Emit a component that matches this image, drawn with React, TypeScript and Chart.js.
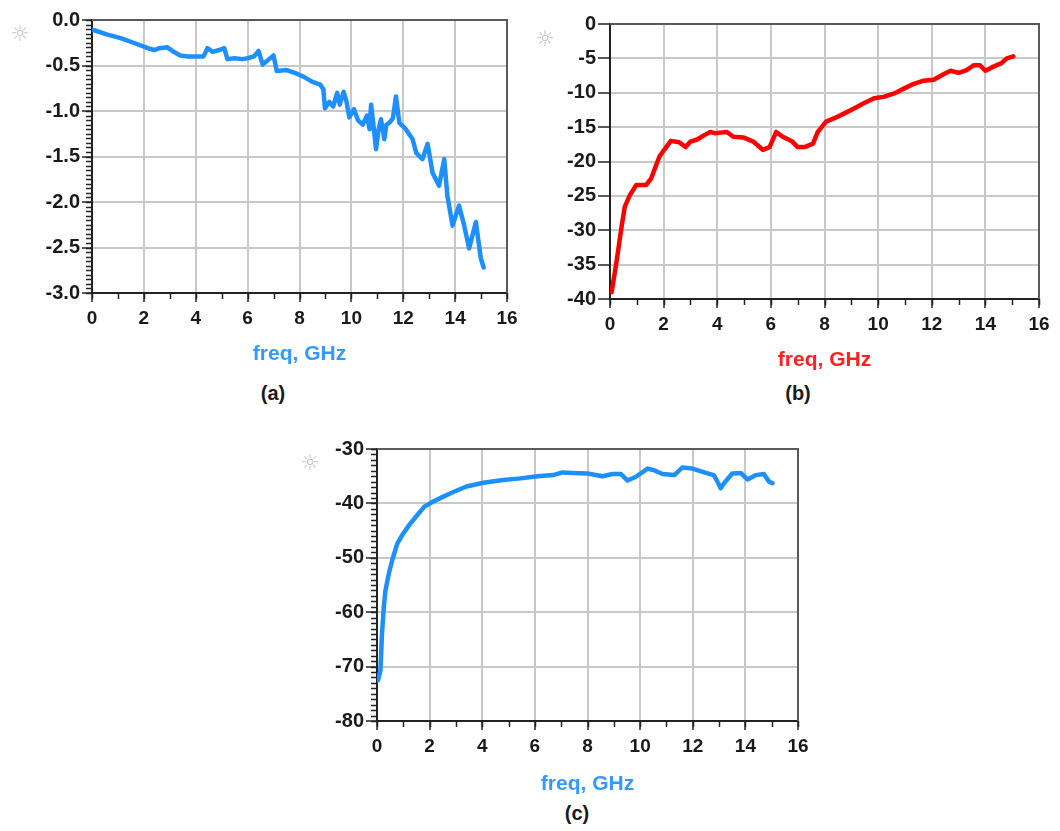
import React, { useEffect, useRef } from "react";
import { Chart, registerables } from "chart.js";

Chart.register(...registerables);

// ---------- data ----------
const freqA = [0.05, 0.6, 1.1, 1.6, 2.15, 2.4, 2.6, 2.9, 3.1, 3.4, 3.7, 4.0, 4.3, 4.45, 4.65, 4.9, 5.1, 5.22, 5.5, 5.8, 6.0, 6.25, 6.42, 6.58, 6.83, 7.0, 7.12, 7.5, 7.9, 8.2, 8.5, 8.8, 8.92, 8.98, 9.15, 9.3, 9.45, 9.55, 9.7, 9.8, 9.92, 10.1, 10.25, 10.44, 10.6, 10.7, 10.76, 10.85, 10.95, 11.05, 11.14, 11.27, 11.35, 11.46, 11.6, 11.72, 11.85, 12.1, 12.36, 12.5, 12.74, 12.94, 13.13, 13.38, 13.58, 13.7, 13.9, 14.15, 14.35, 14.54, 14.8, 14.99, 15.1];
const valsA = [-0.11, -0.16, -0.2, -0.25, -0.31, -0.33, -0.31, -0.3, -0.34, -0.39, -0.4, -0.4, -0.4, -0.31, -0.35, -0.33, -0.31, -0.43, -0.42, -0.43, -0.42, -0.4, -0.34, -0.49, -0.43, -0.39, -0.56, -0.55, -0.59, -0.63, -0.68, -0.71, -0.76, -0.97, -0.9, -0.95, -0.8, -0.93, -0.79, -0.88, -1.07, -0.98, -1.1, -1.15, -1.05, -1.2, -0.93, -1.15, -1.42, -1.2, -1.09, -1.31, -1.15, -1.13, -1.08, -0.84, -1.13, -1.2, -1.31, -1.46, -1.53, -1.36, -1.68, -1.82, -1.53, -1.93, -2.26, -2.04, -2.26, -2.51, -2.22, -2.62, -2.72];

const freqB = [0.06, 0.25, 0.43, 0.55, 0.74, 0.98, 1.35, 1.53, 1.84, 2.02, 2.27, 2.58, 2.82, 3.0, 3.25, 3.5, 3.74, 3.93, 4.1, 4.36, 4.6, 4.97, 5.34, 5.7, 5.95, 6.2, 6.44, 6.8, 7.0, 7.26, 7.57, 7.75, 8.06, 8.37, 8.74, 9.1, 9.48, 9.85, 10.2, 10.6, 10.96, 11.33, 11.7, 12.07, 12.44, 12.7, 13.0, 13.3, 13.56, 13.8, 14.0, 14.3, 14.6, 14.8, 15.04];
const valsB = [-39.0, -34.4, -29.5, -26.6, -24.9, -23.4, -23.4, -22.5, -19.3, -18.3, -17.0, -17.2, -17.9, -17.1, -16.8, -16.2, -15.7, -15.9, -15.8, -15.7, -16.4, -16.5, -17.1, -18.3, -17.9, -15.7, -16.4, -17.1, -17.9, -17.9, -17.4, -15.7, -14.2, -13.7, -13.0, -12.3, -11.5, -10.8, -10.6, -10.1, -9.4, -8.7, -8.25, -8.1, -7.3, -6.8, -7.1, -6.7, -6.0, -6.0, -6.8, -6.2, -5.7, -5.0, -4.7];

const freqC = [0.04, 0.13, 0.19, 0.26, 0.32, 0.45, 0.58, 0.77, 0.96, 1.22, 1.47, 1.8, 2.12, 2.5, 2.9, 3.4, 4.04, 4.8, 5.45, 6.1, 6.7, 7.05, 7.43, 8.0, 8.57, 8.95, 9.27, 9.52, 9.84, 10.28, 10.53, 10.85, 11.3, 11.6, 11.99, 12.5, 12.8, 12.97, 13.06, 13.19, 13.5, 13.82, 14.08, 14.4, 14.7, 14.9, 15.03];
const valsC = [-72.5, -70.7, -63.9, -59, -56, -52.9, -50.4, -47.4, -45.8, -44, -42.5, -40.6, -39.7, -38.8, -37.9, -36.9, -36.2, -35.7, -35.4, -35.0, -34.8, -34.3, -34.4, -34.5, -35.0, -34.6, -34.6, -35.8, -35.1, -33.6, -33.9, -34.6, -34.8, -33.4, -33.6, -34.4, -34.8, -36.3, -37.2, -36.3, -34.5, -34.4, -35.6, -34.8, -34.6, -36.0, -36.3];

const xAxisLabel = "freq, GHz";
const captions = ["(a)", "(b)", "(c)"];

const FONT = "'Liberation Sans', Arial, sans-serif";

const minorTicksPlugin = {
  id: "minorTicks",
  afterDraw(chart: any, _args: any, opts: any) {
    const { ctx, chartArea } = chart;
    const xs = chart.scales.x;
    const ys = chart.scales.y;
    ctx.save();
    ctx.strokeStyle = "#222";
    ctx.lineWidth = 1.5;
    if (opts.xStep) {
      const n = Math.round((xs.max - xs.min) / opts.xStep);
      for (let i = 0; i <= n; i++) {
        const px = Math.round(xs.getPixelForValue(xs.min + i * opts.xStep)) + 0.5;
        ctx.beginPath();
        ctx.moveTo(px, chartArea.bottom);
        ctx.lineTo(px, chartArea.bottom + opts.len);
        ctx.stroke();
      }
    }
    if (opts.yStep) {
      const n = Math.round((ys.max - ys.min) / opts.yStep);
      for (let i = 0; i <= n; i++) {
        const py = Math.round(ys.getPixelForValue(ys.min + i * opts.yStep)) + 0.5;
        ctx.beginPath();
        ctx.moveTo(chartArea.left - opts.len, py);
        ctx.lineTo(chartArea.left, py);
        ctx.stroke();
      }
    }
    // frame top / right
    ctx.strokeStyle = "#5a5a5a";
    ctx.lineWidth = 2;
    ctx.beginPath();
    ctx.moveTo(chartArea.left, chartArea.top);
    ctx.lineTo(chartArea.right, chartArea.top);
    ctx.lineTo(chartArea.right, chartArea.bottom);
    ctx.stroke();
    ctx.restore();
  },
};

type PanelProps = {
  left: number;
  top: number;
  width: number;
  height: number;
  plot: { l: number; t: number; r: number; b: number };
  freq: number[];
  vals: number[];
  color: string;
  labelColor: string;
  yMin: number;
  yMax: number;
  yStep: number;
  yMinor: number;
  decimals: number;
  yTickLen: number;
  titlePad: number;
};

function Panel(p: PanelProps) {
  const ref = useRef<HTMLCanvasElement | null>(null);
  useEffect(() => {
    if (!ref.current) return;
    const data = p.freq.map((f, i) => ({ x: f, y: p.vals[i] }));
    const chart = new Chart(ref.current, {
      type: "line",
      data: {
        datasets: [
          {
            data,
            borderColor: p.color,
            borderWidth: 4.5,
            borderJoinStyle: "round",
            borderCapStyle: "round",
            pointRadius: 0,
            tension: 0,
            fill: false,
          },
        ],
      },
      options: {
        animation: false,
        responsive: false,
        devicePixelRatio: 1,
        layout: { padding: { left: 0, top: p.plot.t, right: p.width - p.plot.r, bottom: 0 } },
        plugins: {
          legend: { display: false },
          tooltip: { enabled: false },
          minorTicks: { xStep: 1, yStep: p.yMinor, len: 6 },
        } as any,
        scales: {
          x: {
            type: "linear",
            min: 0,
            max: 16,
            ticks: {
              stepSize: 2,
              color: "#1a1a1a",
              font: { family: FONT, size: 19, weight: "bold" },
              padding: 5,
              maxRotation: 0,
            },
            grid: { color: "#c8c8c8", lineWidth: 2, tickColor: "#222", tickLength: 9, tickWidth: 1.5 },
            border: { color: "#222", width: 2 },
            title: {
              display: true,
              text: xAxisLabel,
              color: p.labelColor,
              font: { family: FONT, size: 21, weight: "bold" },
              padding: { top: 0, bottom: p.titlePad },
            },
            afterFit: (s: any) => {
              s.height = p.height - p.plot.b;
            },
          },
          y: {
            type: "linear",
            min: p.yMin,
            max: p.yMax,
            ticks: {
              stepSize: p.yStep,
              color: "#1a1a1a",
              font: { family: FONT, size: 20, weight: "bold" },
              padding: 2,
              callback: (v: any) => Number(v).toFixed(p.decimals),
            },
            grid: { color: "#c8c8c8", lineWidth: 2, tickColor: "#222", tickLength: p.yTickLen, tickWidth: 1.5 },
            border: { color: "#222", width: 2 },
            afterFit: (s: any) => {
              s.width = p.plot.l;
            },
          },
        },
      } as any,
      plugins: [minorTicksPlugin],
    });
    return () => chart.destroy();
  }, []);
  return (
    <canvas
      ref={ref}
      width={p.width}
      height={p.height}
      style={{ position: "absolute", left: p.left, top: p.top, width: p.width, height: p.height }}
    />
  );
}

const captionStyle = (cx: number, cy: number): React.CSSProperties => ({
  position: "absolute",
  left: cx - 40,
  top: cy - 13,
  width: 80,
  height: 26,
  lineHeight: "26px",
  textAlign: "center",
  fontFamily: FONT,
  fontWeight: "bold",
  fontSize: 20,
  color: "#1a1a1a",
});

const sunStyle = (cx: number, cy: number): React.CSSProperties => ({
  position: "absolute",
  left: cx - 14,
  top: cy - 14,
  width: 28,
  height: 28,
  lineHeight: "28px",
  textAlign: "center",
  fontFamily: "'DejaVu Sans', sans-serif",
  fontSize: 22,
  color: "#c4c4c4",
});

export default function App() {
  return (
    <div style={{ position: "absolute", left: 0, top: 0, width: 1060, height: 831, background: "#fff", overflow: "hidden" }}>
      <Panel
        left={0}
        top={0}
        width={530}
        height={372}
        plot={{ l: 92, t: 20, r: 507, b: 293 }}
        freq={freqA}
        vals={valsA}
        color="#1e8fff"
        labelColor="#3399ff"
        yMin={-3}
        yMax={0}
        yStep={0.5}
        yMinor={0.05}
        decimals={1}
        yTickLen={10}
        titlePad={5}
      />
      <Panel
        left={530}
        top={0}
        width={530}
        height={378}
        plot={{ l: 80, t: 24, r: 509, b: 299 }}
        freq={freqB}
        vals={valsB}
        color="#ff0000"
        labelColor="#ff2020"
        yMin={-40}
        yMax={0}
        yStep={5}
        yMinor={0}
        decimals={0}
        yTickLen={12}
        titlePad={5}
      />
      <Panel
        left={290}
        top={410}
        width={545}
        height={388}
        plot={{ l: 87, t: 39, r: 508, b: 311 }}
        freq={freqC}
        vals={valsC}
        color="#1e8fff"
        labelColor="#3399ff"
        yMin={-80}
        yMax={-30}
        yStep={10}
        yMinor={1}
        decimals={0}
        yTickLen={11}
        titlePad={1}
      />
      <div style={captionStyle(273, 393)}>{captions[0]}</div>
      <div style={captionStyle(798, 393)}>{captions[1]}</div>
      <div style={captionStyle(577, 813)}>{captions[2]}</div>
      <div style={sunStyle(20, 34)}>☼</div>
      <div style={sunStyle(545, 39)}>☼</div>
      <div style={sunStyle(310, 463)}>☼</div>
    </div>
  );
}
